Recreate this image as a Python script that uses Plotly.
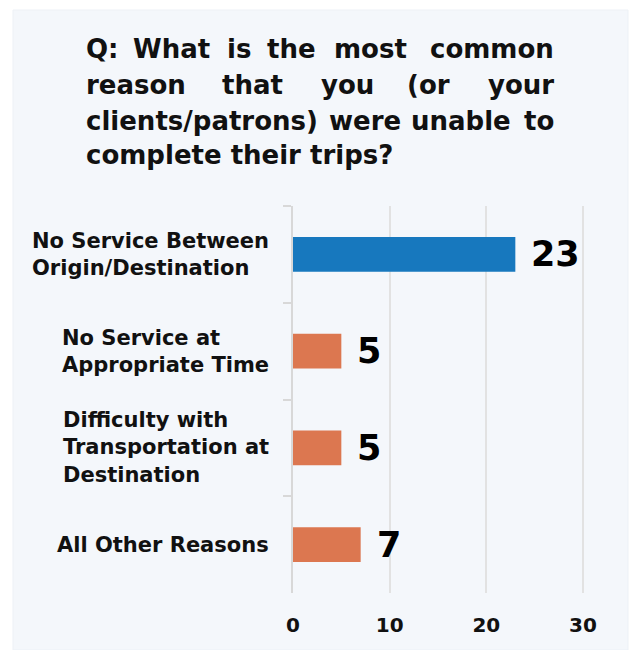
import plotly.graph_objects as go

# Survey responses
categories = [
    "No Service Between<br>Origin/Destination",
    "No Service at<br>Appropriate Time",
    "Difficulty with<br>Transportation at<br>Destination",
    "All Other Reasons",
]
counts = [23, 5, 5, 7]
bar_colors = ["#1778be", "#dc7750", "#dc7750", "#dc7750"]
x_ticks = [0, 10, 20, 30]

# Title lines; the first three are spread word by word across the full width
title_lines = [
    ["Q:", "What", "is", "the", "most", "common"],
    ["reason", "that", "you", "(or", "your"],
    ["clients/patrons)", "were", "unable", "to"],
    ["complete their trips?"],
]

# Page geometry (pixels)
W, H = 631, 650
L, R, T, B = 293, 19, 206, 57
PW, PH = W - L - R, H - T - B
FONT = "DejaVu Sans"


def px_x(p):
    return (p - L) / PW


def px_y(p):
    return (H - B - p) / PH


fig = go.Figure(
    go.Bar(
        x=counts,
        y=categories,
        orientation="h",
        marker=dict(color=bar_colors, line=dict(width=0)),
        width=0.36,
        hoverinfo="skip",
    )
)

annotations = []

# Category labels: block right-aligned to the axis, lines left-aligned
for cat in categories:
    annotations.append(dict(
        text=cat, x=px_x(271), xref="paper", xanchor="right",
        y=cat, yref="y", yanchor="middle", align="left", showarrow=False,
        font=dict(family=FONT, size=21, color="#111111", weight="bold"),
    ))

# Value labels next to each bar
for cat, v in zip(categories, counts):
    annotations.append(dict(
        text=str(v), x=v, xref="x", xanchor="left", xshift=14,
        y=cat, yref="y", yanchor="middle", showarrow=False,
        font=dict(family=FONT, size=35, color="#000000", weight="bold"),
    ))

# Title words: (x position, anchor) per word
title_y = [49, 85.5, 120.5, 155.5]
word_pos = [
    [(84, "left"), (171.5, "center"), (238.5, "center"), (291, "center"),
     (370, "center"), (556, "right")],
    [(84, "left"), (252, "center"), (347.5, "center"), (428, "center"),
     (556, "right")],
    [(84, "left"), (327, "left"), (409, "left"), (556, "right")],
    [(84, "left")],
]
tfont = dict(family=FONT, size=26, color="#111111", weight="bold")
for words, pos, yc in zip(title_lines, word_pos, title_y):
    for w, (xp, anchor) in zip(words, pos):
        annotations.append(dict(
            text=w, x=px_x(xp), xref="paper", xanchor=anchor,
            y=px_y(yc), yref="paper", yanchor="middle", showarrow=False,
            font=tfont,
        ))

fig.update_layout(
    width=W, height=H,
    margin=dict(l=L, r=R, t=T, b=B, pad=0),
    paper_bgcolor="#ffffff",
    plot_bgcolor="rgba(0,0,0,0)",
    showlegend=False,
    bargap=0.64,
    annotations=annotations,
    shapes=[dict(
        type="rect", xref="paper", yref="paper", layer="below",
        x0=px_x(13), x1=px_x(628), y0=px_y(650), y1=px_y(10),
        fillcolor="#f4f7fb", line=dict(color="#edf1f6", width=1),
    )],
    xaxis=dict(
        range=[0, 33], tickvals=x_ticks, ticktext=[str(t) for t in x_ticks],
        showgrid=True, gridcolor="#e2e2e2", gridwidth=2,
        zeroline=False, showline=False, ticks="",
        ticklabelstandoff=18,
        tickfont=dict(family=FONT, size=20, color="#111111", weight="bold"),
        fixedrange=True,
    ),
    yaxis=dict(
        type="category", categoryorder="array", categoryarray=categories,
        autorange="reversed",
        showline=True, linecolor="#d8d8d8", linewidth=2,
        ticks="outside", ticklen=8, tickwidth=2, tickcolor="#d8d8d8",
        tickson="boundaries", showticklabels=False, showgrid=False,
        zeroline=False, fixedrange=True,
    ),
)

fig.write_html("out.html", config={"displayModeBar": False})
